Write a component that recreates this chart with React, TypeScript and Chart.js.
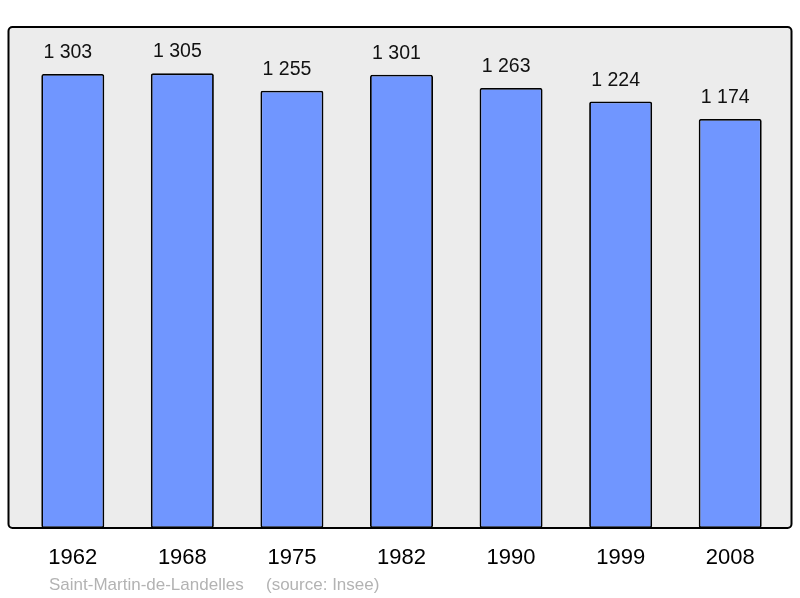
import React, { useEffect, useRef } from "react";
import { Chart, registerables } from "chart.js";

Chart.register(...registerables);

const years = ["1962", "1968", "1975", "1982", "1990", "1999", "2008"];
const population = [1303, 1305, 1255, 1301, 1263, 1224, 1174];
const townName = "Saint-Martin-de-Landelles";
const sourceText = "(source: Insee)";

const fmt = (v: number) => {
  const s = String(v);
  return s.replace(/\B(?=(\d{3})+(?!\d))/g, " ");
};

const FONT = "'Liberation Sans', Arial, sans-serif";

function roundRect(ctx: CanvasRenderingContext2D, x: number, y: number, w: number, h: number, r: number) {
  ctx.beginPath();
  ctx.moveTo(x + r, y);
  ctx.lineTo(x + w - r, y);
  ctx.arcTo(x + w, y, x + w, y + r, r);
  ctx.lineTo(x + w, y + h - r);
  ctx.arcTo(x + w, y + h, x + w - r, y + h, r);
  ctx.lineTo(x + r, y + h);
  ctx.arcTo(x, y + h, x, y + h - r, r);
  ctx.lineTo(x, y + r);
  ctx.arcTo(x, y, x + r, y, r);
  ctx.closePath();
}

const framePlugin = {
  id: "frame",
  beforeDatasetsDraw(chart: any) {
    const { ctx, chartArea } = chart;
    const x0 = chartArea.left - 9.5;
    const x1 = chartArea.right + 6.5;
    const y0 = chartArea.top;
    const y1 = chartArea.bottom;
    ctx.save();
    roundRect(ctx, x0, y0, x1 - x0, y1 - y0, 4);
    ctx.fillStyle = "#ececec";
    ctx.fill();
    ctx.restore();
  },
  afterDatasetsDraw(chart: any) {
    const { ctx, chartArea } = chart;
    const x0 = chartArea.left - 9.5;
    const x1 = chartArea.right + 6.5;
    const y0 = chartArea.top;
    const y1 = chartArea.bottom;
    ctx.save();
    roundRect(ctx, x0, y0, x1 - x0, y1 - y0, 4);
    ctx.lineWidth = 2;
    ctx.strokeStyle = "#000";
    ctx.stroke();
    // value labels
    const meta = chart.getDatasetMeta(0);
    ctx.font = `19.5px ${FONT}`;
    ctx.fillStyle = "#111";
    ctx.textAlign = "center";
    ctx.textBaseline = "alphabetic";
    meta.data.forEach((bar: any, i: number) => {
      const v = chart.data.datasets[0].data[i] as number;
      ctx.fillText(fmt(v), bar.x - 5, bar.y - 16);
    });
    // footer
    ctx.font = `17px ${FONT}`;
    ctx.fillStyle = "#b3b3b3";
    ctx.textAlign = "left";
    ctx.fillText(townName, 49, 590);
    ctx.fillText(sourceText, 266, 590);
    ctx.restore();
  },
};

export default function App() {
  const ref = useRef<HTMLCanvasElement>(null);
  useEffect(() => {
    if (!ref.current) return;
    const chart = new Chart(ref.current, {
      type: "bar",
      data: {
        labels: years,
        datasets: [
          {
            data: population,
            backgroundColor: "#7096ff",
            borderColor: "#000",
            borderWidth: 1.8,
            borderSkipped: false,
            borderRadius: 2,
            barPercentage: 0.575,
            categoryPercentage: 1,
          },
        ],
      },
      options: {
        animation: false,
        responsive: true,
        maintainAspectRatio: false,
        layout: { padding: { left: 18, right: 15, top: 27, bottom: 0 } },
        plugins: {
          legend: { display: false },
          tooltip: { enabled: false },
        },
        scales: {
          x: {
            grid: { display: false, drawTicks: false },
            border: { display: false },
            ticks: {
              color: "#000",
              font: { size: 22, family: FONT },
              padding: 17,
              maxRotation: 0,
            },
            afterFit: (s: any) => {
              s.height = 70;
            },
          },
          y: {
            display: false,
            min: 0,
            max: 1438,
          },
        },
      },
      plugins: [framePlugin],
    });
    return () => chart.destroy();
  }, []);
  return (
    <div style={{ position: "fixed", left: 0, top: 0, width: 800, height: 598 }}>
      <canvas ref={ref} />
    </div>
  );
}
